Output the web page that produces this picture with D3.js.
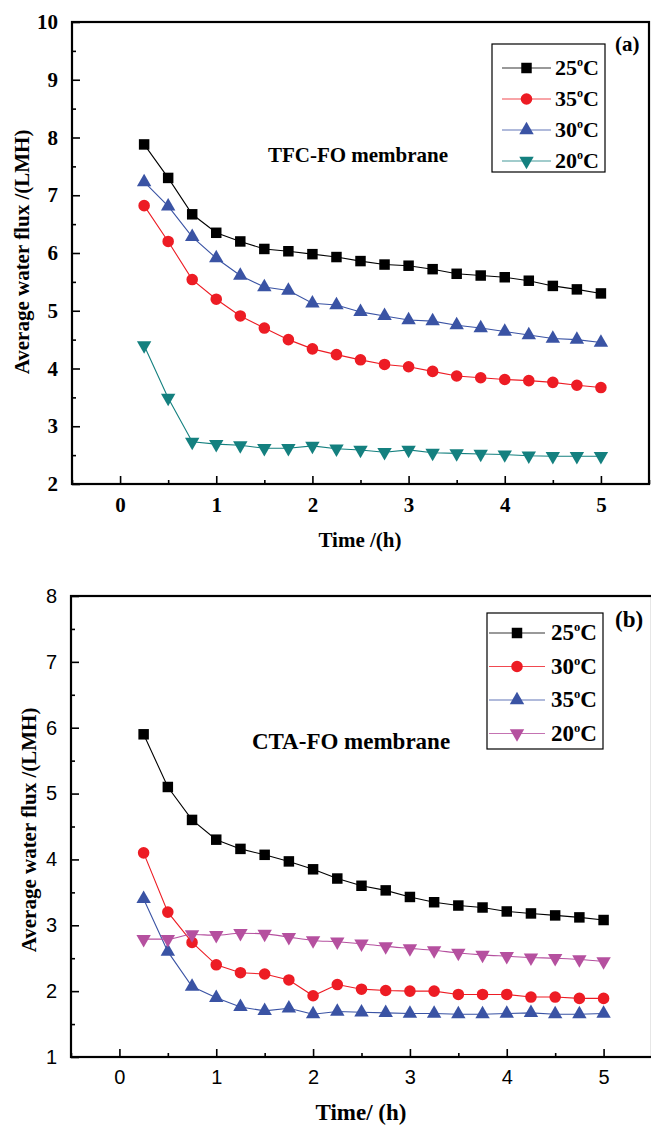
<!DOCTYPE html>
<html><head><meta charset="utf-8">
<script src="https://cdn.jsdelivr.net/npm/d3@7"></script>
<style>body{margin:0;background:#fff}svg{display:block}</style>
</head><body>
<svg id="c" width="651" height="1126"></svg>
<script>
const times = [0.25,0.5,0.75,1,1.25,1.5,1.75,2,2.25,2.5,2.75,3,3.25,3.5,3.75,4,4.25,4.5,4.75,5];
// Panel (a) TFC-FO
const tfc25 = [7.88,7.30,6.67,6.35,6.20,6.07,6.03,5.98,5.93,5.86,5.80,5.78,5.72,5.64,5.61,5.58,5.52,5.43,5.37,5.30];
const tfc35 = [6.82,6.20,5.54,5.20,4.91,4.70,4.50,4.34,4.24,4.15,4.07,4.03,3.95,3.87,3.84,3.81,3.79,3.76,3.71,3.67];
const tfc30 = [7.23,6.81,6.28,5.91,5.61,5.41,5.35,5.13,5.10,4.98,4.91,4.84,4.82,4.75,4.70,4.64,4.58,4.52,4.50,4.45];
const tfc20 = [4.40,3.49,2.73,2.69,2.67,2.62,2.62,2.66,2.61,2.59,2.55,2.59,2.54,2.53,2.52,2.51,2.49,2.48,2.48,2.48];
// Panel (b) CTA-FO
const cta25 = [5.90,5.10,4.60,4.30,4.16,4.07,3.97,3.85,3.71,3.60,3.53,3.43,3.35,3.30,3.27,3.21,3.18,3.15,3.12,3.08];
const cta30 = [4.10,3.20,2.74,2.40,2.28,2.26,2.17,1.93,2.10,2.03,2.01,2.00,2.00,1.95,1.95,1.95,1.91,1.91,1.89,1.89];
const cta35 = [3.40,2.60,2.07,1.90,1.76,1.70,1.74,1.65,1.69,1.68,1.67,1.66,1.66,1.65,1.65,1.66,1.67,1.65,1.65,1.66];
const cta20 = [2.79,2.79,2.86,2.85,2.88,2.87,2.82,2.77,2.75,2.72,2.68,2.65,2.62,2.58,2.55,2.53,2.51,2.50,2.48,2.45];
const xTicks = [0,1,2,3,4,5];
const yTicksA = [2,3,4,5,6,7,8,9,10];
const yTicksB = [1,2,3,4,5,6,7,8];
const labelsA = ["25","35","30","20"];
const labelsB = ["25","30","35","20"];

const svg = d3.select("#c");
const serif = "'Liberation Serif','Times New Roman',serif";
const sans = "'Liberation Sans',Arial,sans-serif";

const C = {black:"#000000", red:"#ed1c24", blue:"#3a53a4", teal:"#14807f", purple:"#b5509f"};
const sym = {
  square: d3.symbol(d3.symbolSquare, 110)(),
  circle: d3.symbol(d3.symbolCircle, 105)(),
  up: d3.symbol(d3.symbolTriangle, 90)(),
  down: d3.symbol(d3.symbolTriangle, 90)()
};

function panel(cfg){
  const g = svg.append("g");
  const x = d3.scaleLinear().domain([-0.5,5.5]).range(cfg.xr);
  const y = d3.scaleLinear().domain(cfg.yd).range(cfg.yr);
  const [x0,x1] = cfg.xr, [y1,y0] = cfg.yr;
  const minorX = d3.range(-0.5,5.51,0.5).filter(v=>!Number.isInteger(v));
  const minorY = d3.range(cfg.yd[0]+0.5, cfg.yd[1], 1);
  g.append("g").attr("transform",`translate(0,${y1})`)
    .call(d3.axisBottom(x).tickValues(minorX).tickSize(-4).tickFormat("")).call(s=>s.select(".domain").remove())
    .selectAll("line").attr("stroke","#000").attr("stroke-width",1.6);
  g.append("g").attr("transform",`translate(${x0},0)`)
    .call(d3.axisLeft(y).tickValues(minorY).tickSize(-4).tickFormat("")).call(s=>s.select(".domain").remove())
    .selectAll("line").attr("stroke","#000").attr("stroke-width",1.6);
  const ax = g.append("g").attr("transform",`translate(0,${y1})`)
    .call(d3.axisBottom(x).tickValues(xTicks).tickSize(-8).tickPadding(cfg.xPad).tickFormat(d3.format("d")));
  ax.select(".domain").remove();
  ax.selectAll("line").attr("stroke","#000").attr("stroke-width",1.6);
  ax.selectAll("text").attr("font-family",cfg.tickFont).attr("font-weight",cfg.tickWeight).attr("font-size",cfg.tickSize).attr("fill","#000");
  const ay = g.append("g").attr("transform",`translate(${x0},0)`)
    .call(d3.axisLeft(y).tickValues(cfg.yTicks).tickSize(-8).tickPadding(cfg.yPad).tickFormat(d3.format("d")));
  ay.select(".domain").remove();
  ay.selectAll("line").attr("stroke","#000").attr("stroke-width",1.6);
  ay.selectAll("text").attr("font-family",cfg.tickFont).attr("font-weight",cfg.tickWeight).attr("font-size",cfg.tickSize).attr("fill","#000");
  g.append("rect").attr("x",x0).attr("y",y0).attr("width",x1-x0).attr("height",y1-y0)
    .attr("fill","none").attr("stroke","#000").attr("stroke-width",2.2);
  const line = d3.line().x((d,i)=>x(times[i])).y(d=>y(d));
  cfg.series.forEach(s=>{
    g.append("path").datum(s.v).attr("d", line.curve(s.curve||d3.curveLinear)).attr("fill","none")
      .attr("stroke",s.c).attr("stroke-width",1.1);
  });
  cfg.series.forEach(s=>{
    g.selectAll(null).data(s.v).join("path")
      .attr("d",sym[s.m])
      .attr("transform",(d,i)=>`translate(${x(times[i])},${y(d)})${s.m==="down"?" rotate(180)":""}`)
      .attr("fill",s.c);
  });
  const L = cfg.legend;
  g.append("rect").attr("x",L.x).attr("y",L.y).attr("width",L.w).attr("height",L.h)
    .attr("fill","#fff").attr("stroke","#000").attr("stroke-width",1.2);
  cfg.series.forEach((s,i)=>{
    const yy = L.y0 + i*L.dy;
    g.append("line").attr("x1",L.lx0).attr("x2",L.lx1).attr("y1",yy).attr("y2",yy)
      .attr("stroke",s.c).attr("stroke-width",1.1).attr("stroke-opacity",0.8);
    g.append("path").attr("d",sym[s.m])
      .attr("transform",`translate(${(L.lx0+L.lx1)/2},${yy})${s.m==="down"?" rotate(180)":""}`).attr("fill",s.c);
    const t = g.append("text").attr("x",L.tx).attr("y",yy+7).attr("font-family",serif)
      .attr("font-weight","bold").attr("font-size",L.fs).attr("fill","#000");
    t.append("tspan").text(s.label);
    t.append("tspan").attr("dy",-9).attr("font-size",L.fs*0.55).text("o");
    t.append("tspan").attr("dy",9).text("C");
  });
  g.append("text").attr("x",cfg.tag.x).attr("y",cfg.tag.y).attr("font-family",serif).attr("font-weight","bold")
    .attr("font-size",cfg.tag.fs).text(cfg.tag.t);
  g.append("text").attr("x",cfg.note.x).attr("y",cfg.note.y).attr("text-anchor","middle").attr("font-family",serif)
    .attr("font-weight","bold").attr("font-size",cfg.note.fs).text(cfg.note.t);
  g.append("text").attr("x",cfg.xt.x).attr("y",cfg.xt.y).attr("text-anchor","middle").attr("font-family",serif)
    .attr("font-weight","bold").attr("font-size",cfg.xt.fs).text(cfg.xt.t);
  g.append("text").attr("transform",`translate(${cfg.yt.x},${cfg.yt.y}) rotate(-90)`).attr("text-anchor","middle")
    .attr("font-family",serif).attr("font-weight","bold").attr("font-size",cfg.yt.fs).text(cfg.yt.t);
}

panel({
  xr:[72,649], yd:[2,10], yr:[484,22], yTicks:yTicksA,
  tickFont:serif, tickWeight:"bold", tickSize:21, xPad:13, yPad:14,
  series:[
    {v:tfc25,c:C.black,m:"square",label:labelsA[0]},
    {v:tfc35,c:C.red,m:"circle",label:labelsA[1]},
    {v:tfc30,c:C.blue,m:"up",label:labelsA[2]},
    {v:tfc20,c:C.teal,m:"down",label:labelsA[3]}
  ],
  legend:{x:492,y:44,w:113,h:128,y0:68,dy:31,lx0:502,lx1:551,tx:555,fs:22},
  tag:{x:615,y:51,fs:21,t:"(a)"},
  note:{x:358,y:162,fs:21,t:"TFC-FO membrane"},
  xt:{x:360,y:547,fs:21,t:"Time /(h)"},
  yt:{x:29,y:252,fs:21,t:"Average water flux /(LMH)"}
});
panel({
  xr:[71,652], yd:[1,8], yr:[1057,596], yTicks:yTicksB,
  tickFont:sans, tickWeight:"normal", tickSize:20, xPad:13, yPad:14,
  series:[
    {v:cta25,c:C.black,m:"square",label:labelsB[0]},
    {v:cta30,c:C.red,m:"circle",label:labelsB[1]},
    {v:cta35,c:C.blue,m:"up",label:labelsB[2]},
    {v:cta20,c:C.purple,m:"down",label:labelsB[3],curve:d3.curveMonotoneX}
  ],
  legend:{x:487,y:613,w:116,h:136,y0:633,dy:33.5,lx0:489,lx1:545,tx:551,fs:23},
  tag:{x:615,y:627,fs:23,t:"(b)"},
  note:{x:351,y:749,fs:23,t:"CTA-FO membrane"},
  xt:{x:361,y:1120,fs:23,t:"Time/ (h)"},
  yt:{x:36,y:830,fs:21,t:"Average water flux /(LMH)"}
});
</script>
</body></html>
